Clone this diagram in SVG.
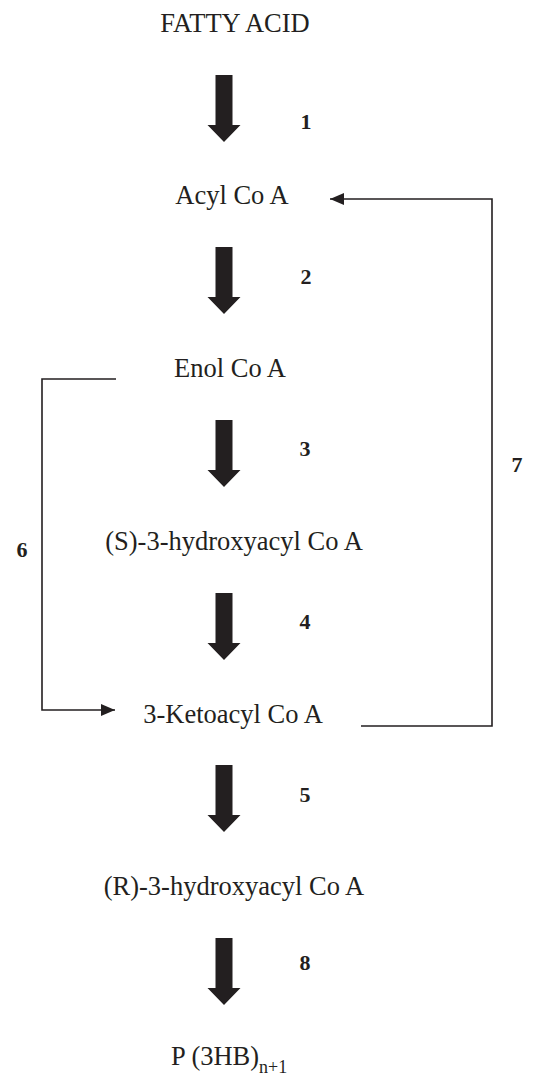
<svg xmlns="http://www.w3.org/2000/svg" width="545" height="1075" viewBox="0 0 545 1075">
<style>
.t{font-family:"Liberation Serif","Times New Roman",serif;font-size:26.5px;fill:#231f20;text-anchor:middle}
.n{font-family:"Liberation Serif","Times New Roman",serif;font-size:22px;font-weight:bold;fill:#231f20;text-anchor:middle}
.big{fill:#231f20}
.c{fill:none;stroke:#231f20;stroke-width:1.6}
</style>
<defs>
<path id="bigArrow" class="big" d="M-8.5,0 H8.5 V50 H16.5 L0,67 L-16.5,50 H-8.5 Z"/>
<marker id="ah" viewBox="0 0 14 12" refX="14" refY="6" markerWidth="14" markerHeight="12" markerUnits="userSpaceOnUse" orient="auto">
<path d="M0,0 L14,6 L0,12 Z" fill="#231f20"/>
</marker>
</defs>
<g id="n-fatty"><text class="t" x="235" y="32">FATTY ACID</text></g>
<g id="n-acyl"><text class="t" x="232" y="204">Acyl Co A</text></g>
<g id="n-enol"><text class="t" x="230" y="377">Enol Co A</text></g>
<g id="n-shydroxy"><text class="t" x="234" y="550">(S)-3-hydroxyacyl Co A</text></g>
<g id="n-keto"><text class="t" x="233" y="723">3-Ketoacyl Co A</text></g>
<g id="n-rhydroxy"><text class="t" x="234" y="895">(R)-3-hydroxyacyl Co A</text></g>
<g id="n-p3hb"><text x="171" y="1065" style="font-family:'Liberation Serif','Times New Roman',serif;font-size:26.5px;fill:#231f20">P (3HB)<tspan font-size="18" dy="8">n+1</tspan></text></g>
<g id="connectors">
<use href="#bigArrow" x="224" y="75"/>
<use href="#bigArrow" x="224" y="247"/>
<use href="#bigArrow" x="224" y="420"/>
<use href="#bigArrow" x="224" y="593"/>
<use href="#bigArrow" x="224" y="765"/>
<use href="#bigArrow" x="224" y="938"/>
<polyline class="c" points="116,379 42,379 42,710 115,710" marker-end="url(#ah)"/>
<polyline class="c" points="361,726 492,726 492,199 330,199" marker-end="url(#ah)"/>
</g>
<g id="labels">
<text class="n" x="306" y="129">1</text>
<text class="n" x="306" y="284">2</text>
<text class="n" x="305" y="456">3</text>
<text class="n" x="305" y="629">4</text>
<text class="n" x="305" y="802">5</text>
<text class="n" x="305" y="970">8</text>
<text class="n" x="22" y="557">6</text>
<text class="n" x="517" y="472">7</text>
</g>
</svg>
